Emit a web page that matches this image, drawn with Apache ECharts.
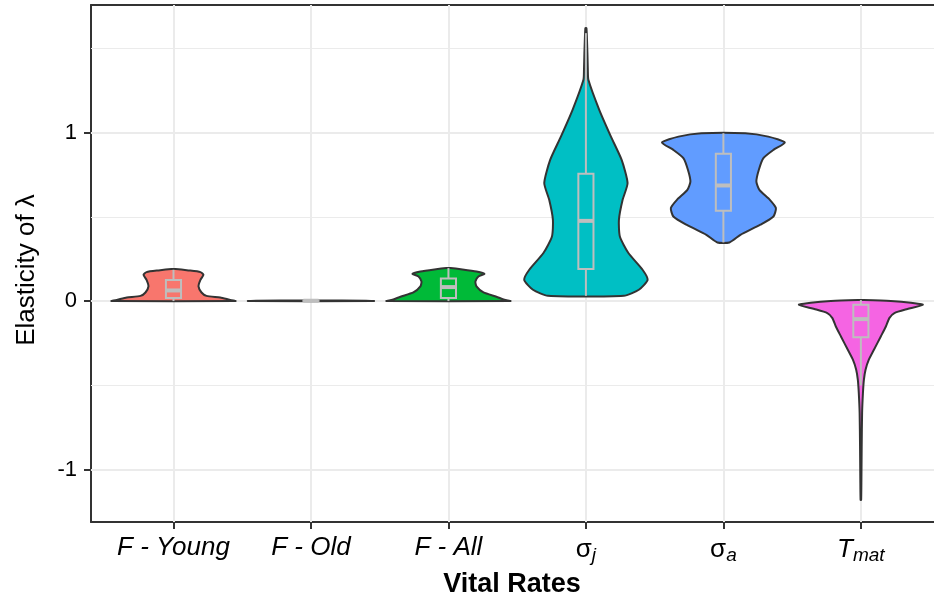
<!DOCTYPE html>
<html><head><meta charset="utf-8">
<script src="https://cdn.jsdelivr.net/npm/echarts@6/dist/echarts.min.js"></script>
<style>html,body{margin:0;padding:0;background:#fff}#c{width:934px;height:600px}</style>
</head><body><div id="c"></div>
<script>
// ---- data ----
const categories = ['F - Young', 'F - Old', 'F - All', 'σ_j', 'σ_a', 'T_mat'];
const fillColors = ['#F8766D', '#B79F00', '#00BA38', '#00BFC4', '#619CFF', '#F564E3'];
const yTicks = [-1, 0, 1];
const yMinor = [-0.5, 0.5, 1.5];

// violin profiles: elasticity value and half-width of the density (x units)
const youngY = [0, 0.008, 0.021, 0.031, 0.051, 0.087, 0.126, 0.156, 0.172, 0.182, 0.190];
const youngW = [0.451, 0.407, 0.340, 0.240, 0.204, 0.182, 0.196, 0.218, 0.196, 0.109, 0.015];
const oldY = [0, 0.002, 0.004];
const oldW = [0.458, 0.40, 0.05];
const allY = [0, 0.008, 0.026, 0.051, 0.087, 0.116, 0.146, 0.162, 0.176, 0.188, 0.196];
const allW = [0.451, 0.407, 0.349, 0.255, 0.204, 0.196, 0.218, 0.262, 0.204, 0.102, 0.015];
const sjY = [0.031, 0.067, 0.126, 0.186, 0.285, 0.383, 0.482, 0.601, 0.700, 0.838, 0.976, 1.135, 1.313, 1.372, 1.471, 1.619];
const sjW = [0.276, 0.385, 0.449, 0.412, 0.309, 0.247, 0.240, 0.267, 0.303, 0.260, 0.182, 0.097, 0.018, 0.014, 0.011, 0.004];
const saY = [0.348, 0.393, 0.453, 0.502, 0.552, 0.601, 0.660, 0.709, 0.779, 0.848, 0.897, 0.941, 0.976, 0.996];
const saW = [0.044, 0.124, 0.269, 0.364, 0.382, 0.338, 0.262, 0.240, 0.258, 0.291, 0.364, 0.447, 0.327, 0.160];
const tmY = [-1.18, -1.06, -0.862, -0.664, -0.546, -0.467, -0.407, -0.348, -0.289, -0.210, -0.151, -0.101, -0.071, -0.047, -0.022, -0.01, 0.0, 0.006];
const tmW = [0.002, 0.004, 0.006, 0.009, 0.015, 0.022, 0.034, 0.058, 0.095, 0.145, 0.182, 0.207, 0.244, 0.338, 0.451, 0.364, 0.218, 0.022];

// boxplot stats: [lower whisker, Q1, median, Q3, upper whisker]
const youngBox = [0.0, 0.018, 0.063, 0.125, 0.186];
const oldBox = [0.0, 0.001, 0.002, 0.003, 0.004];
const allBox = [0.0, 0.018, 0.083, 0.134, 0.196];
const sjBox = [0.031, 0.190, 0.476, 0.755, 1.59];
const saBox = [0.348, 0.536, 0.686, 0.874, 0.996];
const tmBox = [-0.50, -0.214, -0.107, -0.022, 0.006];

const violins = [
  { y: youngY, w: youngW, box: youngBox },
  { y: oldY, w: oldW, box: oldBox },
  { y: allY, w: allW, box: allBox },
  { y: sjY, w: sjW, box: sjBox },
  { y: saY, w: saW, box: saBox },
  { y: tmY, w: tmW, box: tmBox }
];

// ---- chart ----
const chart = echarts.init(document.getElementById('c'), null, { renderer: 'canvas' });
const BOXCOL = '#bebebe';
const OUTLINE = '#333333';
const BOXHALF = 0.055;

function renderItem(params, api) {
  const i = params.dataIndex;
  const cx = api.value(0);
  const v = violins[i];
  const pts = [];
  for (let k = 0; k < v.y.length; k++) pts.push(api.coord([cx + v.w[k], v.y[k]]));
  for (let k = v.y.length - 1; k >= 0; k--) pts.push(api.coord([cx - v.w[k], v.y[k]]));
  const b = v.box;
  const c0 = api.coord([cx, b[0]]), c1 = api.coord([cx, b[1]]), c2 = api.coord([cx, b[2]]),
        c3 = api.coord([cx, b[3]]), c4 = api.coord([cx, b[4]]);
  const l = api.coord([cx - BOXHALF, b[2]])[0], r = api.coord([cx + BOXHALF, b[2]])[0];
  return {
    type: 'group',
    children: [
      { type: 'polygon', shape: { points: pts, smooth: 0.2 },
        style: { fill: fillColors[i], stroke: OUTLINE, lineWidth: 2 } },
      { type: 'line', shape: { x1: c0[0], y1: c0[1], x2: c1[0], y2: c1[1] },
        style: { stroke: BOXCOL, lineWidth: 2 } },
      { type: 'line', shape: { x1: c3[0], y1: c3[1], x2: c4[0], y2: c4[1] },
        style: { stroke: BOXCOL, lineWidth: 2 } },
      { type: 'rect', shape: { x: l, y: c3[1], width: r - l, height: c1[1] - c3[1] },
        style: { fill: fillColors[i], stroke: BOXCOL, lineWidth: 2 } },
      { type: 'line', shape: { x1: l, y1: c2[1], x2: r, y2: c2[1] },
        style: { stroke: BOXCOL, lineWidth: 4 } }
    ]
  };
}

function labelFor(name) {
  if (name.indexOf('_') >= 0) {
    const parts = name.split('_');
    if (parts[0] === 'σ') return '{sg|σ}{sub|' + parts[1] + '}';
    return '{it|' + parts[0] + '}{sub|' + parts[1] + '}';
  }
  return '{it|' + name + '}';
}

const FONT = 'Liberation Sans';
const catPos = categories.map((c, i) => i + 1);

const option = {
  animation: false,
  backgroundColor: '#ffffff',
  grid: { left: 91, right: 0, top: 5, bottom: 78 },
  xAxis: [{
    type: 'value', min: 0.4, max: 6.532, position: 'bottom',
    axisLine: { show: true, onZero: false, lineStyle: { color: OUTLINE, width: 2 } },
    axisTick: { show: true, customValues: catPos, length: 7, lineStyle: { color: OUTLINE, width: 2 } },
    axisLabel: {
      show: true, customValues: catPos, margin: 13,
      formatter: function (v) { const idx = Math.round(v) - 1; return categories[idx] ? labelFor(categories[idx]) : ''; },
      rich: {
        it: { fontFamily: FONT, fontStyle: 'italic', fontSize: 26, color: '#000' },
        sg: { fontFamily: FONT, fontSize: 26, color: '#000' },
        sub: { fontFamily: FONT, fontStyle: 'italic', fontSize: 19, color: '#000', padding: [11, 0, 0, 0] }
      }
    },
    splitLine: { show: false }
  }, {
    type: 'value', min: 0.4, max: 6.532, position: 'top',
    axisLine: { show: true, onZero: false, lineStyle: { color: OUTLINE, width: 2 } },
    axisTick: { show: false }, axisLabel: { show: false }, splitLine: { show: false }
  }],
  yAxis: {
    type: 'value', min: -1.311, max: 1.757,
    axisLine: { show: true, onZero: false, lineStyle: { color: OUTLINE, width: 2 } },
    axisTick: { show: true, customValues: yTicks, length: 7, lineStyle: { color: OUTLINE, width: 2 } },
    axisLabel: { show: true, customValues: yTicks, margin: 14, fontFamily: FONT, fontSize: 22, color: '#000',
      formatter: v => String(v) },
    splitLine: { show: false }
  },
  graphic: [
    { type: 'text', x: 512, y: 585, style: { text: 'Vital Rates', font: 'bold 27px "Liberation Sans"', fill: '#000', align: 'center', verticalAlign: 'middle' } },
    { type: 'text', x: 27, y: 270, rotation: Math.PI / 2, style: { text: 'Elasticity of λ', font: '26px "Liberation Sans"', fill: '#000', align: 'center', verticalAlign: 'middle' } }
  ],
  series: [
    {
      type: 'line', data: [], silent: true, z: 1,
      markLine: {
        silent: true, symbol: ['none', 'none'], label: { show: false }, animation: false,
        data: [
          ...yMinor.map(v => ({ yAxis: v, lineStyle: { color: '#ebebeb', width: 1.2, type: 'solid' } })),
          ...yTicks.map(v => ({ yAxis: v, lineStyle: { color: '#ebebeb', width: 2, type: 'solid' } })),
          ...catPos.map(v => ({ xAxis: v, lineStyle: { color: '#ebebeb', width: 2, type: 'solid' } }))
        ]
      }
    },
    {
      type: 'custom', z: 5, renderItem: renderItem,
      data: catPos.map(p => [p]),
      clip: false
    }
  ]
};
chart.setOption(option);
</script>
</body></html>
